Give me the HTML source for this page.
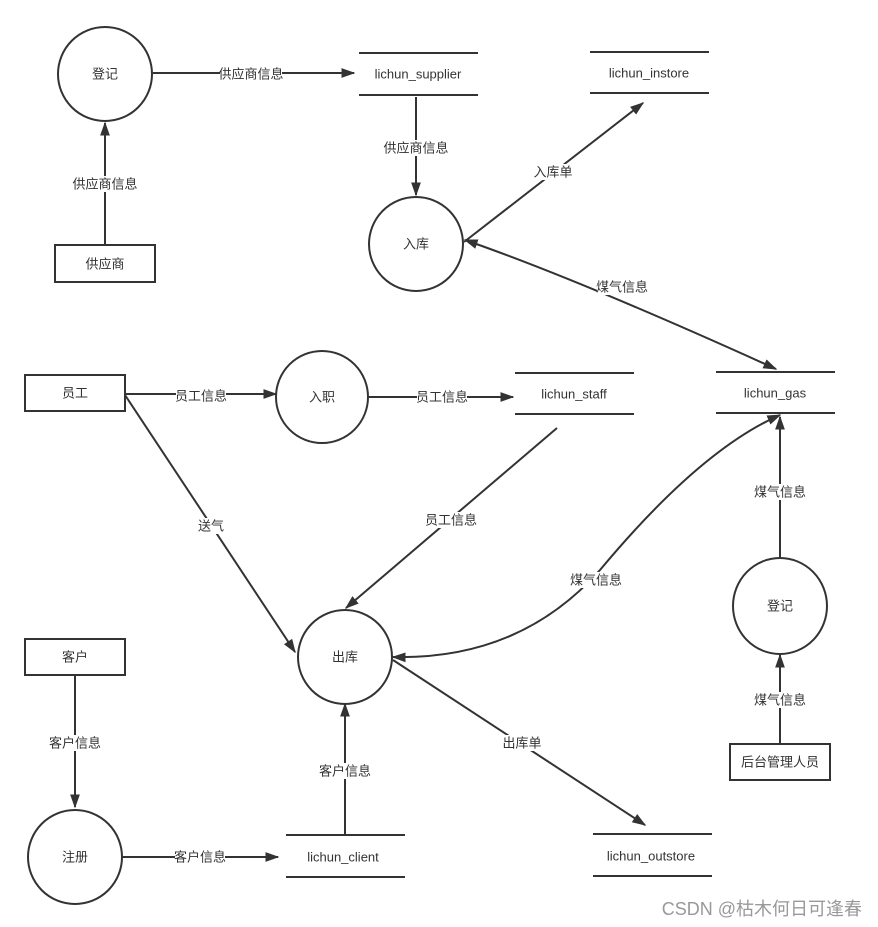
<!DOCTYPE html>
<html><head><meta charset="utf-8"><style>
html,body{margin:0;padding:0;background:#fff;}
svg{display:block;font-family:"Liberation Sans","Noto Sans CJK SC",sans-serif;}
</style></head><body>
<svg width="878" height="927" viewBox="0 0 878 927" xmlns="http://www.w3.org/2000/svg">
<defs>
<marker id="a" viewBox="0 0 10 10" refX="9" refY="5" markerWidth="8" markerHeight="8" markerUnits="userSpaceOnUse" orient="auto-start-reverse">
<path d="M0,0 L10,5 L0,10 z" fill="#333"/></marker>
<marker id="b" viewBox="0 0 10 10" refX="9" refY="5" markerWidth="14" markerHeight="14" orient="auto-start-reverse" markerUnits="userSpaceOnUse">
<path d="M0,1.5 L10,5 L0,8.5 z" fill="#333"/></marker>
</defs>
<g fill="none" stroke="#333" stroke-width="2">
<circle cx="105" cy="74" r="47"/>
<circle cx="416" cy="244" r="47"/>
<circle cx="322" cy="397" r="46"/>
<circle cx="345" cy="657" r="47"/>
<ellipse cx="780" cy="606" rx="47" ry="48"/>
<circle cx="75" cy="857" r="47"/>
<rect x="55" y="245" width="100" height="37"/>
<rect x="25" y="375" width="100" height="36"/>
<rect x="25" y="639" width="100" height="36"/>
<rect x="730" y="744" width="100" height="36"/>
<path d="M359 53H478M359 95H478"/>
<path d="M590 52H709M590 93H709"/>
<path d="M515 373H634M515 414H634"/>
<path d="M716 372H835M716 413H835"/>
<path d="M286 835H405M286 877H405"/>
<path d="M593 834H712M593 876H712"/>
</g>
<g fill="none" stroke="#333" stroke-width="2" marker-end="url(#b)">
<path d="M153 73H354"/>
<path d="M416 97V195"/>
<path d="M105 245V123"/>
<path d="M464 242L643 103"/>
<path d="M776 369Q580 280 465 240" marker-start="url(#b)"/>
<path d="M125 394H276"/>
<path d="M369 397H513"/>
<path d="M557 428L346 608"/>
<path d="M125 395L295 652"/>
<path d="M393 657Q520 660 600 570Q700 450 780 415" marker-start="url(#b)"/>
<path d="M393 660L645 825"/>
<path d="M780 558V417"/>
<path d="M780 744V655"/>
<path d="M75 675V807"/>
<path d="M122 857H278"/>
<path d="M345 835V704"/>
</g>
<g font-size="13" fill="#333" text-anchor="middle" dominant-baseline="central">
<text x="105" y="74">登记</text>
<text x="416" y="244">入库</text>
<text x="322" y="397">入职</text>
<text x="345" y="657">出库</text>
<text x="780" y="606">登记</text>
<text x="75" y="857">注册</text>
<text x="105" y="264">供应商</text>
<text x="75" y="393">员工</text>
<text x="75" y="657">客户</text>
<text x="780" y="762">后台管理人员</text>
<text x="418" y="74">lichun_supplier</text>
<text x="649" y="73">lichun_instore</text>
<text x="574" y="394">lichun_staff</text>
<text x="775" y="393">lichun_gas</text>
<text x="343" y="857">lichun_client</text>
<text x="651" y="856">lichun_outstore</text>
</g>
<g font-size="13" fill="#333" text-anchor="middle" dominant-baseline="central">
<g fill="#fff"><rect x="220" y="66" width="62" height="16"/><rect x="385" y="140" width="62" height="16"/><rect x="74" y="176" width="62" height="16"/><rect x="534" y="164" width="38" height="16"/><rect x="597" y="279" width="50" height="16"/><rect x="176" y="388" width="50" height="16"/><rect x="417" y="389" width="50" height="16"/><rect x="426" y="512" width="50" height="16"/><rect x="198" y="518" width="26" height="16"/><rect x="571" y="572" width="50" height="16"/><rect x="503" y="735" width="38" height="16"/><rect x="755" y="484" width="50" height="16"/><rect x="755" y="692" width="50" height="16"/><rect x="50" y="735" width="50" height="16"/><rect x="175" y="849" width="50" height="16"/><rect x="320" y="763" width="50" height="16"/></g>
<text x="251" y="74">供应商信息</text>
<text x="416" y="148">供应商信息</text>
<text x="105" y="184">供应商信息</text>
<text x="553" y="172">入库单</text>
<text x="622" y="287">煤气信息</text>
<text x="201" y="396">员工信息</text>
<text x="442" y="397">员工信息</text>
<text x="451" y="520">员工信息</text>
<text x="211" y="526">送气</text>
<text x="596" y="580">煤气信息</text>
<text x="522" y="743">出库单</text>
<text x="780" y="492">煤气信息</text>
<text x="780" y="700">煤气信息</text>
<text x="75" y="743">客户信息</text>
<text x="200" y="857">客户信息</text>
<text x="345" y="771">客户信息</text>
</g>
<text x="862" y="915" font-size="18" fill="#999" text-anchor="end">CSDN @枯木何日可逢春</text>
</svg>
</body></html>
